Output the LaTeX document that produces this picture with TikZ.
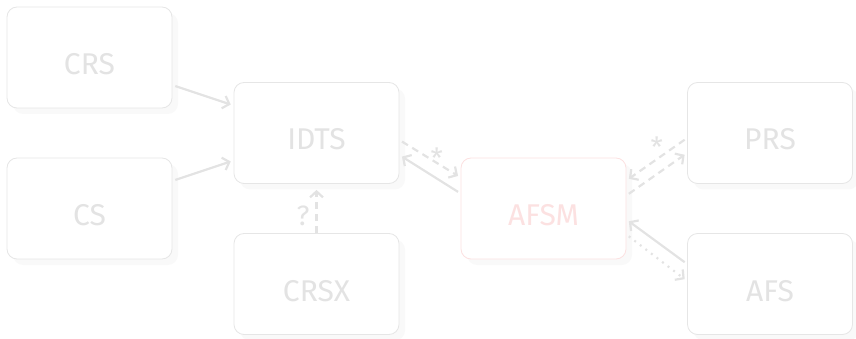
\documentclass[tikz,border=0pt]{standalone}
\usepackage{fontspec}
\setmainfont{Fira Sans}
\usetikzlibrary{arrows.meta, shadows}

\definecolor{boxgray}{HTML}{E6E6E6}
\definecolor{textgray}{HTML}{E3E3E3}
\definecolor{shadowgray}{HTML}{F3F3F3}
\definecolor{linegray}{HTML}{E3E3E3}
\definecolor{focusred}{HTML}{FCE1E1}

\begin{document}
\begin{tikzpicture}[
      x = 1pt, y = 1pt, % one unit per pixel
      box/.style = {draw=boxgray, fill=white, line width=0.8pt, rounded corners=10pt,
          minimum width=165pt, minimum height=101pt, text=textgray,
          font=\fontsize{30}{36}\selectfont, text height=34pt, text depth=0pt,
          drop shadow={shadow xshift=6pt, shadow yshift=-6pt, fill=shadowgray}},
      focus/.style = {draw=focusred, text=focusred},
      flow/.style = {draw=linegray, line width=2.2pt, shorten > = 3pt, shorten < = 3pt,
          -{Straight Barb[length=6pt, width=13pt]}},
      dashline/.style = {dash pattern=on 7pt off 5pt},
      dotline/.style = {dash pattern=on 2pt off 5pt},
      lbl/.style = {text=textgray, font=\fontsize{28}{34}\selectfont}
  ]

\useasboundingbox (0, 0) rectangle (856, -339);

\foreach \name/\px/\py in {
    CRS/89.5/-57.5,
    CS/89.5/-208.5,
    IDTS/316.5/-133,
    CRSX/316.5/-284,
    PRS/770/-133,
    AFS/770/-284%
}{
    \node[box] (\name) at (\px, \py) {\name};
}
\node[box, focus] (AFSM) at (543.5, -208.5) {AFSM};

\draw[flow] (CRS) -- (IDTS);
\draw[flow] (CS) -- (IDTS);
\draw[flow, dashline, shorten < = 0pt, shorten > = 6pt] (CRSX.north) -- node[lbl, left, pos=0.35, inner sep=6pt] {?} (IDTS.south);

% IDTS <-> AFSM
\draw[flow, dashline] ([yshift=-7pt]IDTS.east) -- node[lbl, pos=0.61, yshift=5pt] {*} ([yshift=31pt]AFSM.west);
\draw[flow] ([yshift=15pt]AFSM.west) -- ([yshift=-22pt]IDTS.east);

% AFSM <-> PRS
\draw[flow, dashline] ([yshift=-5pt]PRS.west) -- node[lbl, pos=0.5, yshift=12pt] {*} ([yshift=28pt]AFSM.east);
\draw[flow, dashline] ([yshift=13pt]AFSM.east) -- ([yshift=-20pt]PRS.west);

% AFSM <-> AFS
\draw[flow] ([yshift=20pt]AFS.west) -- ([yshift=-11pt]AFSM.east);
\draw[flow, dotline] ([yshift=-26pt]AFSM.east) -- ([yshift=3pt]AFS.west);

\end{tikzpicture}
\end{document}
